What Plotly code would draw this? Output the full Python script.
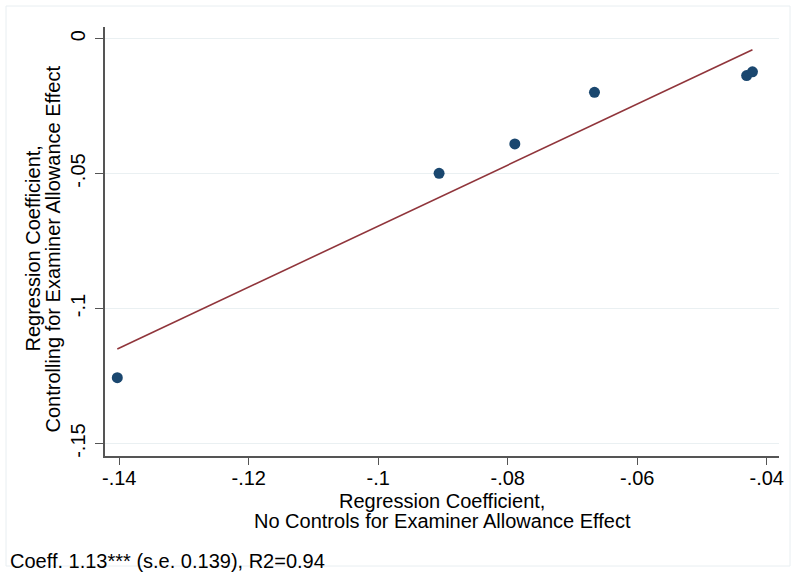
import numpy as np
import plotly.graph_objects as go

# Coefficient pairs: without controls (x) vs. controlling for examiner allowance (y)
coef_no_controls = [-0.1403, -0.0906, -0.0789, -0.0666, -0.0431, -0.0422]
coef_with_controls = [-0.1256, -0.0499, -0.0390, -0.0199, -0.0137, -0.0123]

slope = 1.13
x_tick_vals = [-0.14, -0.12, -0.10, -0.08, -0.06, -0.04]
x_tick_text = ["-.14", "-.12", "-.1", "-.08", "-.06", "-.04"]
y_tick_vals = [0, -0.05, -0.10, -0.15]
y_tick_text = ["0", "-.05", "-.1", "-.15"]
x_title_lines = ["Regression Coefficient,", "No Controls for Examiner Allowance Effect"]
y_title_lines = ["Regression Coefficient,", "Controlling for Examiner Allowance Effect"]
note = "Coeff. 1.13*** (s.e. 0.139), R2=0.94"

x = np.array(coef_no_controls)
y = np.array(coef_with_controls)
intercept = y.mean() - slope * x.mean()
fit_x = np.array([x.min(), x.max()])
fit_y = intercept + slope * fit_x

FONT = "Liberation Sans, Arial, Helvetica, sans-serif"
FS = 20
W, H = 796, 572
ML, MR, MT, MB = 105, 17, 27, 116
pw = W - ML - MR
ph = H - MT - MB


def px(xp):
    return (xp - ML) / pw


def py(yp):
    return (MT + ph - yp) / ph


fig = go.Figure()
fig.add_trace(go.Scatter(
    x=x, y=y, mode="markers",
    marker=dict(color="#1a476f", size=11, line=dict(width=0)),
    showlegend=False, hoverinfo="x+y",
))
fig.add_trace(go.Scatter(
    x=fit_x, y=fit_y, mode="lines",
    line=dict(color="#90353b", width=1.6),
    showlegend=False, hoverinfo="skip",
))

# faint frame around the whole graph region
fig.add_shape(
    type="rect", xref="paper", yref="paper",
    x0=px(6), x1=px(W - 6), y0=py(H - 6), y1=py(6),
    line=dict(color="#e8eef1", width=1), fillcolor="rgba(0,0,0,0)", layer="below",
)

# axis titles, one annotation per line for tight line spacing
for i, line in enumerate(x_title_lines):
    fig.add_annotation(
        text=line, xref="paper", yref="paper",
        x=0.5, y=py(501 + 20 * i), xanchor="center", yanchor="middle",
        showarrow=False, font=dict(family=FONT, size=FS, color="black"),
    )
for i, line in enumerate(y_title_lines):
    fig.add_annotation(
        text=line, xref="paper", yref="paper", textangle=-90,
        x=px(32.5 + 20 * i), y=py(249), xanchor="center", yanchor="middle",
        showarrow=False, font=dict(family=FONT, size=FS, color="black"),
    )

fig.add_annotation(
    text=note, xref="paper", yref="paper",
    x=px(8), y=py(561), xanchor="left", yanchor="middle", showarrow=False,
    font=dict(family=FONT, size=FS, color="black"),
)

fig.update_layout(
    width=W, height=H,
    margin=dict(l=ML, r=MR, t=MT, b=MB),
    paper_bgcolor="white", plot_bgcolor="white",
    font=dict(family=FONT, size=FS, color="black"),
    xaxis=dict(
        range=[-0.1422, -0.0381],
        tickvals=x_tick_vals, ticktext=x_tick_text,
        ticks="outside", ticklen=7, tickwidth=1.2, tickcolor="#555555",
        ticklabelstandoff=-4,
        showline=True, linecolor="#555555", linewidth=1.5,
        showgrid=False, zeroline=False,
        tickfont=dict(size=FS),
    ),
    yaxis=dict(
        range=[-0.1546, 0.0043],
        tickvals=y_tick_vals, ticktext=y_tick_text,
        tickangle=-90,
        ticks="outside", ticklen=8, tickwidth=1.2, tickcolor="#555555",
        ticklabelstandoff=2,
        showline=True, linecolor="#555555", linewidth=1.5,
        showgrid=True, gridcolor="#eaf0f2", gridwidth=1.2,
        zeroline=False,
        tickfont=dict(size=FS),
    ),
)

fig.write_html("out.html")
